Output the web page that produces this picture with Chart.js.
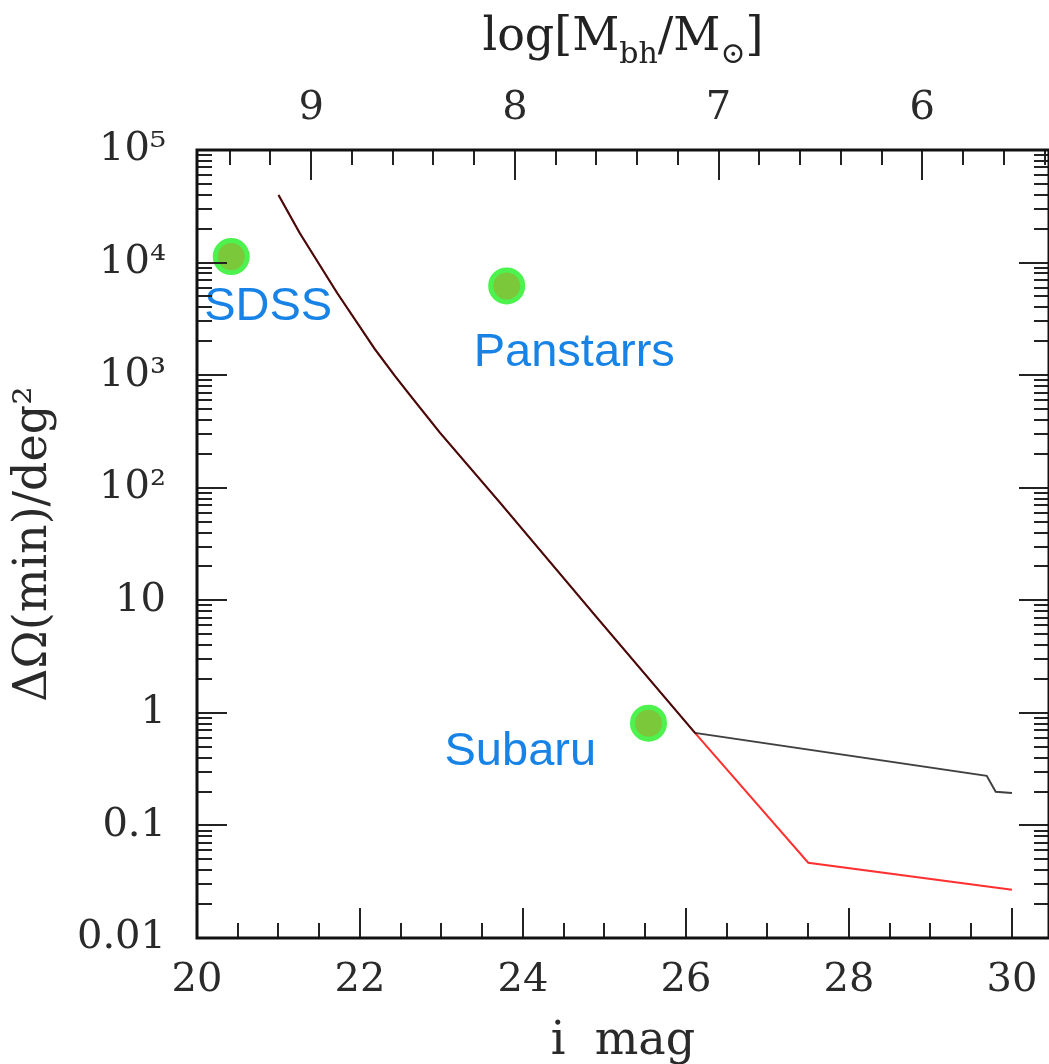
<!DOCTYPE html>
<html>
<head>
<meta charset="utf-8">
<script src="https://cdn.jsdelivr.net/npm/chart.js@4.4.1/dist/chart.umd.min.js"></script>
<style>
  html, body { margin: 0; padding: 0; background: #fff; }
  #wrap { width: 1049px; height: 1064px; }
</style>
</head>
<body>
<div id="wrap"><canvas id="chart" width="1049" height="1064"></canvas></div>
<script>
// ---- data ----
// shared part of both curves (i mag vs minimum area in deg^2)
const curveMag  = [21.0, 21.26, 21.72, 22.18, 22.43, 22.64, 22.98, 23.72, 24.91, 26.11];
const curveArea = [39800, 18300, 5370, 1710, 980, 627, 308, 73.3, 6.98, 0.664];
// black branch after the break
const blackTailMag  = [29.69, 29.80, 30.0];
const blackTailArea = [0.276, 0.199, 0.194];
// red branch after the break
const redTailMag  = [27.5, 30.0];
const redTailArea = [0.0466, 0.0268];

// surveys
const surveyNames = ['SDSS', 'Panstarrs', 'Subaru'];
const surveyMag   = [20.42, 23.80, 25.54];
const surveyArea  = [11300, 6200, 0.81];

// axes
const magTicks = [20, 22, 24, 26, 28, 30];
const areaTicks = [0.01, 0.1, 1, 10, 100, 1000, 10000, 100000];
const areaTickLabels = ['0.01', '0.1', '1', '10', '10²', '10³', '10⁴', '10⁵'];
const massTicks = [9, 8, 7, 6];

const MAG_MIN = 20, MAG_MAX = 30.454;
// top axis: log Mbh = 9 - (i - 21.4) / 2.5
function magToMass(m) { return 9 - (m - 21.4) / 2.5; }

const toXY = (xs, ys) => xs.map((v, i) => ({ x: v, y: ys[i] }));

// ---- plugins ----
const serif = "'DejaVu Serif', 'Liberation Serif', serif";

const frameTicks = {
  id: 'frameTicks',
  afterDraw(chart) {
    const { ctx, chartArea: a, scales } = chart;
    const sx = scales.x, sy = scales.y, st = scales.x2;
    const MAJ = 30, MIN = 15;
    ctx.save();
    ctx.strokeStyle = '#222';
    ctx.lineWidth = 2;
    ctx.beginPath();
    // bottom: i mag, major each 2, minor each 0.5
    for (let k = 40; k <= 61; k++) {
      const v = k / 2;
      if (v > MAG_MAX) break;
      const px = Math.round(sx.getPixelForValue(v));
      const len = (k % 4 === 0) ? MAJ : MIN;
      ctx.moveTo(px, a.bottom);
      ctx.lineTo(px, a.bottom - len);
    }
    // top: log M, major each 1, minor each 0.2
    for (let k = 25; k <= 50; k++) {
      const v = k / 5;
      if (v < st.min || v > st.max) continue;
      const px = Math.round(st.getPixelForValue(v));
      const len = (k % 5 === 0) ? MAJ : MIN;
      ctx.moveTo(px, a.top);
      ctx.lineTo(px, a.top + len);
    }
    // left + right: log area
    for (let d = -2; d <= 5; d++) {
      for (let m = 1; m <= 9; m++) {
        if (d === 5 && m > 1) break;
        const py = Math.round(sy.getPixelForValue(m * Math.pow(10, d)));
        const len = (m === 1) ? MAJ : MIN;
        ctx.moveTo(a.left, py);
        ctx.lineTo(a.left + len, py);
        ctx.moveTo(a.right, py);
        ctx.lineTo(a.right - len, py);
      }
    }
    ctx.stroke();
    ctx.lineWidth = 3;
    ctx.strokeStyle = '#111';
    ctx.strokeRect(a.left, a.top, a.right - a.left, a.bottom - a.top);
    ctx.restore();
  }
};

const massTitle = {
  id: 'massTitle',
  afterDraw(chart) {
    const { ctx } = chart;
    const parts = [
      { t: 'log[M', size: 46, dy: 0 },
      { t: 'bh', size: 30, dy: 13 },
      { t: '/M', size: 46, dy: 0 },
      { t: '⊙', size: 30, dy: 13 },
      { t: ']', size: 46, dy: 0 }
    ];
    ctx.save();
    ctx.fillStyle = '#222';
    ctx.textBaseline = 'alphabetic';
    let total = 0;
    parts.forEach(p => {
      ctx.font = p.size + 'px ' + serif;
      p.w = ctx.measureText(p.t).width;
      total += p.w;
    });
    let x = 623 - total / 2;
    const base = 50;
    parts.forEach(p => {
      ctx.font = p.size + 'px ' + serif;
      ctx.fillText(p.t, x, base + p.dy);
      x += p.w;
    });
    ctx.restore();
  }
};

// label offsets from each survey point, in pixels
const labelOffsets = [[-27, 63], [-33, 80], [-204, 42]];
const surveyLabels = {
  id: 'surveyLabels',
  afterDatasetsDraw(chart) {
    const { ctx } = chart;
    const meta = chart.getDatasetMeta(0);
    ctx.save();
    ctx.fillStyle = '#1783e6';
    ctx.font = "47px 'Liberation Sans', Arial, sans-serif";
    ctx.textBaseline = 'alphabetic';
    meta.data.forEach((pt, i) => {
      ctx.fillText(surveyNames[i], pt.x + labelOffsets[i][0], pt.y + labelOffsets[i][1]);
    });
    ctx.restore();
  }
};

// ---- chart ----
const tickFont = { family: serif, size: 40 };
const noPad = s => { s.paddingLeft = 0; s.paddingRight = 0; s.paddingTop = 0; s.paddingBottom = 0; };

new Chart(document.getElementById('chart'), {
  type: 'scatter',
  data: {
    datasets: [
      {
        label: 'surveys',
        data: toXY(surveyMag, surveyArea),
        pointRadius: 16,
        pointBorderWidth: 5,
        backgroundColor: '#7bc83b',
        borderColor: '#4ef24e',
        showLine: false
      },
      {
        label: 'black',
        data: toXY(curveMag.concat(blackTailMag), curveArea.concat(blackTailArea)),
        showLine: true,
        borderColor: 'rgba(0,0,0,0.75)',
        borderWidth: 2,
        pointRadius: 0
      },
      {
        label: 'red',
        data: toXY(curveMag.concat(redTailMag), curveArea.concat(redTailArea)),
        showLine: true,
        borderColor: '#ff3030',
        borderWidth: 2,
        pointRadius: 0
      }
    ]
  },
  options: {
    responsive: false,
    animation: false,
    devicePixelRatio: 1,
    events: [],
    layout: { padding: 0, autoPadding: false },
    plugins: {
      legend: { display: false },
      tooltip: { enabled: false },
      title: { display: false }
    },
    scales: {
      x: {
        type: 'linear',
        position: 'bottom',
        min: MAG_MIN,
        max: MAG_MAX,
        grid: { display: false, drawTicks: false },
        border: { display: false },
        afterBuildTicks: s => { s.ticks = magTicks.map(v => ({ value: v })); },
        afterFit: s => { s.height = 126; noPad(s); },
        ticks: { font: tickFont, color: '#2a2a2a', padding: 19, maxRotation: 0, autoSkip: false },
        title: {
          display: true,
          text: 'i  mag',
          font: { family: serif, size: 46 },
          color: '#2a2a2a',
          padding: { top: 0, bottom: -6 }
        }
      },
      x2: {
        type: 'linear',
        axis: 'x',
        position: 'top',
        reverse: true,
        min: magToMass(MAG_MAX),
        max: magToMass(MAG_MIN),
        grid: { display: false, drawTicks: false },
        border: { display: false },
        afterBuildTicks: s => { s.ticks = massTicks.map(v => ({ value: v })); },
        afterFit: s => { s.height = 150; noPad(s); },
        ticks: { font: tickFont, color: '#2a2a2a', padding: 17, maxRotation: 0, autoSkip: false }
      },
      y: {
        type: 'logarithmic',
        position: 'left',
        min: 0.01,
        max: 100000,
        grid: { display: false, drawTicks: false },
        border: { display: false },
        afterBuildTicks: s => { s.ticks = areaTicks.map(v => ({ value: v })); },
        afterFit: s => { s.width = 197; noPad(s); },
        ticks: {
          font: tickFont,
          color: '#2a2a2a',
          padding: 31,
          autoSkip: false,
          callback: (value, i) => areaTickLabels[i]
        },
        title: {
          display: true,
          text: 'ΔΩ(min)/deg²',
          font: { family: serif, size: 46 },
          color: '#2a2a2a',
          padding: { top: 6, bottom: 0 }
        }
      }
    }
  },
  plugins: [frameTicks, massTitle, surveyLabels]
});
</script>
</body>
</html>
